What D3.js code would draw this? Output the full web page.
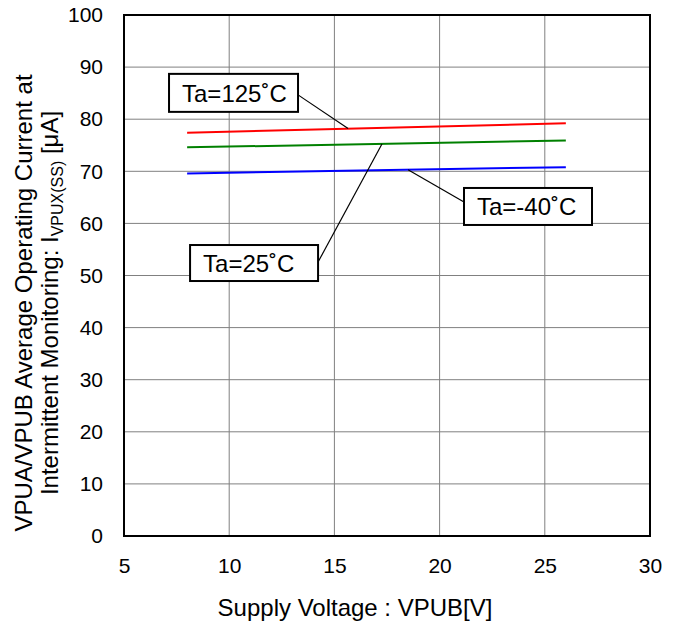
<!DOCTYPE html>
<html lang="en">
<head>
<meta charset="UTF-8">
<title>VPUX average operating current</title>
<style>
  body { margin: 0; background: #fff; }
  svg { display: block; font-family: 'Liberation Sans', Arial, sans-serif; }
  .grid line { stroke: #808080; stroke-width: 1; }
  .tick text { font-size: 21px; fill: #000; font-family: 'Liberation Sans', Arial, sans-serif; }
</style>
</head>
<body>
<svg id="chart" width="680" height="625"></svg>
<script src="https://d3js.org/d3.v7.min.js"></script>
<script>
// data
const voltage = [8, 26];
const ta125 = [77.4, 79.2];
const ta25 = [74.6, 75.9];
const taM40 = [69.6, 70.8];
const xTicks = [5, 10, 15, 20, 25, 30];
const yTicks = [0, 10, 20, 30, 40, 50, 60, 70, 80, 90, 100];

const series = [
  { name: "Ta=125˚C", values: ta125, color: "#ff0000" },
  { name: "Ta=25˚C", values: ta25, color: "#008000" },
  { name: "Ta=-40˚C", values: taM40, color: "#0000ff" }
];

const svg = d3.select("#chart");
const m = { left: 124, right: 650, top: 15, bottom: 536 };

const x = d3.scaleLinear().domain([5, 30]).range([m.left, m.right]);
const y = d3.scaleLinear().domain([0, 100]).range([m.bottom, m.top]);

// grid
const grid = svg.append("g").attr("class", "grid");
grid.selectAll(".gx").data(xTicks.slice(1, -1)).enter().append("line")
  .attr("x1", d => x(d)).attr("x2", d => x(d))
  .attr("y1", m.top).attr("y2", m.bottom);
grid.selectAll(".gy").data(yTicks.slice(1, -1)).enter().append("line")
  .attr("x1", m.left).attr("x2", m.right)
  .attr("y1", d => y(d)).attr("y2", d => y(d));

// axes, labels only
svg.append("g")
  .attr("transform", `translate(0,${m.bottom})`)
  .call(d3.axisBottom(x).tickValues(xTicks).tickSize(0).tickPadding(22))
  .call(g => g.select(".domain").remove());
svg.append("g")
  .attr("transform", `translate(${m.left},0)`)
  .call(d3.axisLeft(y).tickValues(yTicks).tickSize(0).tickPadding(21))
  .call(g => g.select(".domain").remove());

// lines
const line = d3.line().x((d, i) => x(voltage[i])).y(d => y(d));
svg.selectAll(".series").data(series).enter().append("path")
  .attr("d", d => line(d.values))
  .attr("fill", "none")
  .attr("stroke", d => d.color)
  .attr("stroke-width", 2);

// frame
svg.append("rect")
  .attr("x", m.left).attr("y", m.top)
  .attr("width", m.right - m.left).attr("height", m.bottom - m.top)
  .attr("fill", "none").attr("stroke", "#000").attr("stroke-width", 2);

// callouts: box corner in data units, leader leaves the box side and ends on the line
const callouts = [
  { text: "Ta=125˚C", bx: 7.14, by: 88.7, w: 129, h: 38, side: "right", dy: 21, to: [15.65, 78.2] },
  { text: "Ta=25˚C", bx: 8.14, by: 55.85, w: 128, h: 36, side: "right", dy: 17, to: [17.26, 75.25] },
  { text: "Ta=-40˚C", bx: 21.16, by: 66.8, w: 128, h: 37, side: "left", dy: 14, to: [18.5, 70.3] }
];
callouts.forEach(c => {
  const bx = x(c.bx), by = y(c.by);
  svg.append("line")
    .attr("x1", c.side === "right" ? bx + c.w : bx).attr("y1", by + c.dy)
    .attr("x2", x(c.to[0])).attr("y2", y(c.to[1]))
    .attr("stroke", "#000").attr("stroke-width", 1.2);
  svg.append("rect")
    .attr("x", bx).attr("y", by).attr("width", c.w).attr("height", c.h)
    .attr("fill", "#fff").attr("stroke", "#000").attr("stroke-width", 2);
  svg.append("text")
    .attr("x", bx + 13).attr("y", by + c.h / 2 + 9)
    .attr("font-size", 24)
    .text(c.text);
});

// axis titles
svg.append("text")
  .attr("x", 355).attr("y", 616)
  .attr("text-anchor", "middle").attr("font-size", 24)
  .text("Supply Voltage : VPUB[V]");

const yt = svg.append("g").attr("transform", "translate(0,303) rotate(-90)");
yt.append("text")
  .attr("x", 0).attr("y", 32)
  .attr("text-anchor", "middle").attr("font-size", 24)
  .text("VPUA/VPUB Average Operating Current at");
const t2 = yt.append("text")
  .attr("x", 0).attr("y", 58)
  .attr("text-anchor", "middle").attr("font-size", 24);
t2.append("tspan").text("Intermittent Monitoring: I");
t2.append("tspan").attr("font-size", 16).attr("dy", 5).text("VPUX(SS)");
t2.append("tspan").attr("dy", -5).text(" [μA]");
</script>
</body>
</html>
